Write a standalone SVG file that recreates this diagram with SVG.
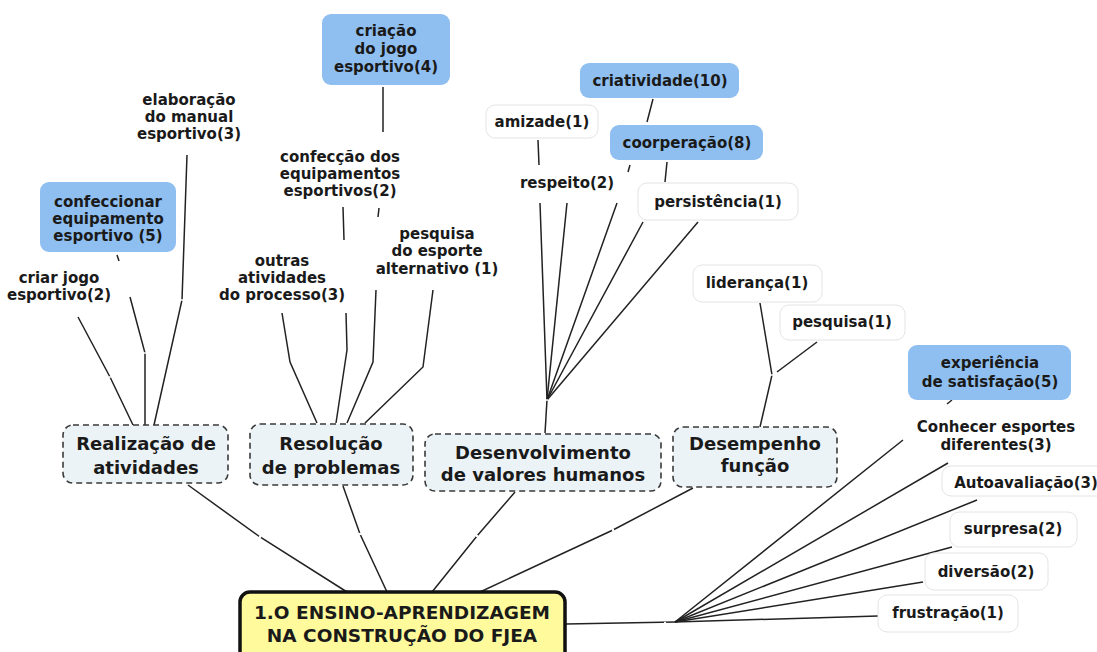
<svg xmlns="http://www.w3.org/2000/svg" width="1097" height="652" viewBox="0 0 1097 652">
<defs>
<style>
text{font-family:"DejaVu Sans",Verdana,"Liberation Sans",sans-serif;font-weight:bold;fill:#1a1a1a;text-anchor:middle}
.s{font-size:15px}
.m{font-size:18px}
.c{font-size:18.5px}
.blue{fill:#8fbff0;stroke:none}
.white{fill:#fff;stroke:#e4e4e4;stroke-width:1}
.main{fill:#ecf3f6;stroke:#3a3a3a;stroke-width:1.6;stroke-dasharray:6 4}
.central{fill:#fffa9c;stroke:#111;stroke-width:3.5}
.con path{fill:none;stroke:#222;stroke-width:1.5}
.knot{fill:#fff;stroke:none}
</style>
</defs>
<rect width="1097" height="652" fill="#fff"/>
<g class="con" id="connectors">
<path d="M188,485 L260,537 L347,592"/>
<path d="M343,486 L360,534 L387,592"/>
<path d="M515,492 L477,536 L432,592"/>
<path d="M693,488 L613,530 L480,592"/>
<path d="M566,624 L675,622"/>
<path d="M675,622 L903,440 M947,404 L952,400"/>
<path d="M675,622 L948,463"/>
<path d="M675,622 L977,500"/>
<path d="M675,622 L952,547"/>
<path d="M675,622 L923,582"/>
<path d="M675,622 L878,616"/>
<path d="M133,425 L110,377 L78,317"/>
<path d="M145,425 L145,353 L130,297 M119,261 L117,255"/>
<path d="M154,425 L182,300 L187,155"/>
<path d="M317,423 L290,362 L282,313"/>
<path d="M336,423 L347,350 L346,313 M344,240 L343,207"/>
<path d="M347,423 L373,362 L376,290 M378,217 L379,208 M383,132 L383,87"/>
<path d="M365,423 L423,367 L433,290"/>
<path d="M545,433 L547,400"/>
<path d="M547,400 L540,203 M539,165 L538,140"/>
<path d="M547,400 L567,203"/>
<path d="M547,400 L617,203 M628,172 L630,165 M647,122 L653,99"/>
<path d="M547,400 L643,222 M665,182 L667,162"/>
<path d="M547,400 L698,222"/>
<path d="M760,427 L772,375 L760,303"/>
<path d="M777,372 L817,342"/>
<circle class="knot" cx="260" cy="537" r="1.2"/>
<circle class="knot" cx="360" cy="534" r="1.2"/>
<circle class="knot" cx="477" cy="536" r="1.2"/>
<circle class="knot" cx="613" cy="530" r="1.2"/>
<circle class="knot" cx="665" cy="623" r="1.2"/>
<circle class="knot" cx="547" cy="400" r="1"/>
<circle class="knot" cx="772" cy="375" r="1"/>
<circle class="knot" cx="110" cy="377" r="1"/>
<circle class="knot" cx="145" cy="353" r="1"/>
<circle class="knot" cx="182" cy="300" r="1"/>
</g>
<g id="central">
<rect class="central" x="240" y="592" width="325" height="70" rx="10"/>
<text class="c" x="402" y="619">1.O ENSINO-APRENDIZAGEM</text>
<text class="c" x="402" y="642">NA CONSTRUÇÃO DO FJEA</text>
</g>
<g id="realizacao">
<rect class="main" x="63" y="425" width="165" height="58" rx="10"/>
<text class="m" x="146" y="450">Realização de</text>
<text class="m" x="146" y="474">atividades</text>
</g>
<g id="resolucao">
<rect class="main" x="250" y="424" width="163" height="61" rx="10"/>
<text class="m" x="331" y="450">Resolução</text>
<text class="m" x="331" y="474">de problemas</text>
</g>
<g id="desenvolvimento">
<rect class="main" x="425" y="434" width="236" height="57" rx="10"/>
<text class="m" x="543" y="459">Desenvolvimento</text>
<text class="m" x="543" y="481">de valores humanos</text>
</g>
<g id="desempenho">
<rect class="main" x="673" y="427" width="164" height="60" rx="10"/>
<text class="m" x="755" y="450">Desempenho</text>
<text class="m" x="755" y="472">função</text>
</g>
<g id="confeccionar">
<rect class="blue" x="40" y="182" width="136" height="70" rx="9"/>
<text class="s" x="108" y="207">confeccionar</text>
<text class="s" x="108" y="224">equipamento</text>
<text class="s" x="108" y="241">esportivo (5)</text>
</g>
<g id="criar">
<text class="s" x="59" y="283">criar jogo</text>
<text class="s" x="59" y="300">esportivo(2)</text>
</g>
<g id="elaboracao">
<text class="s" x="189" y="105">elaboração</text>
<text class="s" x="189" y="122">do manual</text>
<text class="s" x="189" y="139">esportivo(3)</text>
</g>
<g id="criacao">
<rect class="blue" x="322" y="14" width="128" height="71" rx="9"/>
<text class="s" x="386" y="36">criação</text>
<text class="s" x="386" y="54">do jogo</text>
<text class="s" x="386" y="72">esportivo(4)</text>
</g>
<g id="confeccao">
<text class="s" x="340" y="162">confecção dos</text>
<text class="s" x="340" y="179">equipamentos</text>
<text class="s" x="340" y="196">esportivos(2)</text>
</g>
<g id="outras">
<text class="s" x="282" y="266">outras</text>
<text class="s" x="282" y="283">atividades</text>
<text class="s" x="282" y="300">do processo(3)</text>
</g>
<g id="pesquisa-esporte">
<text class="s" x="437" y="239">pesquisa</text>
<text class="s" x="437" y="256">do esporte</text>
<text class="s" x="437" y="274">alternativo (1)</text>
</g>
<g id="amizade">
<rect class="white" x="486" y="105" width="112" height="33" rx="9"/>
<text class="s" x="542" y="127">amizade(1)</text>
</g>
<g id="criatividade">
<rect class="blue" x="580" y="63" width="159" height="35" rx="9"/>
<text class="s" x="660" y="86">criatividade(10)</text>
</g>
<g id="coorperacao">
<rect class="blue" x="610" y="125" width="153" height="35" rx="9"/>
<text class="s" x="687" y="148">coorperação(8)</text>
</g>
<g id="respeito">
<text class="s" x="567" y="188">respeito(2)</text>
</g>
<g id="persistencia">
<rect class="white" x="638" y="183" width="160" height="37" rx="9"/>
<text class="s" x="718" y="207">persistência(1)</text>
</g>
<g id="lideranca">
<rect class="white" x="693" y="265" width="129" height="37" rx="9"/>
<text class="s" x="757" y="288">liderança(1)</text>
</g>
<g id="pesquisa">
<rect class="white" x="780" y="305" width="125" height="35" rx="9"/>
<text class="s" x="842" y="327">pesquisa(1)</text>
</g>
<g id="experiencia">
<rect class="blue" x="908" y="345" width="163" height="55" rx="9"/>
<text class="s" x="990" y="368">experiência</text>
<text class="s" x="990" y="387">de satisfação(5)</text>
</g>
<g id="conhecer">
<text class="s" x="996" y="432">Conhecer esportes</text>
<text class="s" x="996" y="450">diferentes(3)</text>
</g>
<g id="autoavaliacao">
<rect class="white" x="942" y="466" width="170" height="30" rx="9"/>
<text class="s" x="1026" y="488">Autoavaliação(3)</text>
</g>
<g id="surpresa">
<rect class="white" x="950" y="512" width="127" height="35" rx="9"/>
<text class="s" x="1013" y="534">surpresa(2)</text>
</g>
<g id="diversao">
<rect class="white" x="925" y="553" width="123" height="37" rx="9"/>
<text class="s" x="986" y="577">diversão(2)</text>
</g>
<g id="frustracao">
<rect class="white" x="878" y="595" width="140" height="37" rx="9"/>
<text class="s" x="948" y="618">frustração(1)</text>
</g>
</svg>
